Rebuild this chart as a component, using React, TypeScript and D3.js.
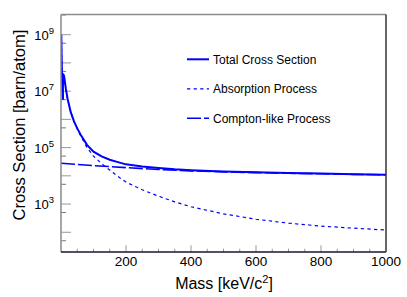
import React, { useRef, useEffect } from "react";
import * as d3 from "d3";

// masses in keV/c^2, cross sections in barn/atom
const totalMass = [1, 2, 3, 4, 5, 6, 6, 8, 10, 15, 20, 30, 40, 50, 60, 80, 100, 125, 150, 175, 200, 250, 300, 350, 400, 500, 600, 700, 800, 900, 1000];
const totalValue = [1.0e9, 1.5e8, 4.0e7, 1.5e7, 8.0e6, 5.0e6, 4.0e7, 3.8e7, 3.2e7, 1.2e7, 5.5e6, 1.8e6, 8.5e5, 4.8e5, 2.9e5, 1.25e5, 7.2e4, 4.9e4, 3.7e4, 3.05e4, 2.55e4, 2.15e4, 1.9e4, 1.7e4, 1.58e4, 1.43e4, 1.33e4, 1.25e4, 1.2e4, 1.14e4, 1.1e4];

const absMass = [1, 2, 3, 4, 5, 6, 6, 8, 10, 15, 20, 30, 40, 50, 60, 80, 100, 125, 150, 175, 200, 250, 300, 350, 400, 500, 600, 700, 800, 900, 1000];
const absValue = [1.0e9, 1.5e8, 4.0e7, 1.5e7, 8.0e6, 5.0e6, 4.0e7, 3.8e7, 3.2e7, 1.2e7, 5.5e6, 1.8e6, 8.3e5, 4.6e5, 2.7e5, 1.0e5, 5.0e4, 2.7e4, 1.6e4, 9.5e3, 6.0e3, 3.2e3, 1.9e3, 1.2e3, 8.0e2, 4.5e2, 2.9e2, 2.1e2, 1.65e2, 1.4e2, 1.2e2];

const comptonMass = [0, 100, 200, 300, 400, 500, 600, 700, 800, 900, 1000];
const comptonValue = [2.8e4, 2.3e4, 1.95e4, 1.68e4, 1.5e4, 1.38e4, 1.3e4, 1.23e4, 1.18e4, 1.13e4, 1.09e4];

const xTickLabels = [200, 400, 600, 800, 1000];
const yLabelExps = [3, 5, 7, 9];

const legendItems = [
  { label: "Total Cross Section", dash: "none", width: 2 },
  { label: "Absorption Process", dash: "3.3,3.3", width: 1.2 },
  { label: "Compton-like Process", dash: "14,3", width: 1.6 },
];

const App = () => {
  const ref = useRef(null);

  useEffect(() => {
    const svg = d3.select(ref.current);
    svg.selectAll("*").remove();

    const left = 61, right = 386, top = 14.5, bottom = 252;
    const font = "'Liberation Sans', Arial, Helvetica, sans-serif";

    const x = d3.scaleLinear().domain([0, 1000]).range([left, right]);
    const y = d3.scaleLog().domain([20, 5.2e9]).range([bottom, top]);

    svg.append("defs").append("clipPath").attr("id", "plotclip")
      .append("rect").attr("x", left).attr("y", top)
      .attr("width", right - left).attr("height", bottom - top);

    // x ticks
    const g = svg.append("g");
    d3.range(50, 1000, 50).forEach((v) => {
      const major = v % 200 === 0;
      g.append("line")
        .attr("x1", x(v)).attr("x2", x(v))
        .attr("y1", bottom).attr("y2", bottom - (major ? 6.7 : 3.3))
        .attr("stroke", "#999").attr("stroke-width", 1);
    });
    xTickLabels.forEach((v) => {
      g.append("text")
        .attr("x", x(v)).attr("y", 266)
        .attr("text-anchor", "middle")
        .attr("font-family", font).attr("font-size", 13.5)
        .text(v);
    });

    // y ticks
    d3.range(2, 10).forEach((e) => {
      g.append("line")
        .attr("x1", left).attr("x2", left + 10)
        .attr("y1", y(Math.pow(10, e))).attr("y2", y(Math.pow(10, e)))
        .attr("stroke", "#999");
    });
    d3.range(1, 10).forEach((e) => {
      const v = 5 * Math.pow(10, e);
      if (v < 20 || v > 5.2e9) return;
      g.append("line")
        .attr("x1", left).attr("x2", left + 5)
        .attr("y1", y(v)).attr("y2", y(v))
        .attr("stroke", "#777");
    });
    yLabelExps.forEach((e) => {
      const t = g.append("text")
        .attr("x", 54).attr("y", y(Math.pow(10, e)) + 5)
        .attr("text-anchor", "end")
        .attr("font-family", font).attr("font-size", 13);
      t.append("tspan").text("10");
      t.append("tspan").attr("dy", -6).attr("font-size", 9.5).text(e);
    });

    // curves
    const line = d3.line<[number, number]>()
      .x((d) => x(d[0]))
      .y((d) => y(d[1]));
    const curves = svg.append("g").attr("clip-path", "url(#plotclip)");

    curves.append("path")
      .attr("d", line(comptonMass.map((m, i) => [m, comptonValue[i]])))
      .attr("fill", "none").attr("stroke", "#0000ff")
      .attr("stroke-width", 1.6).attr("stroke-dasharray", "14,3");
    curves.append("path")
      .attr("d", line(absMass.map((m, i) => [m, absValue[i]])))
      .attr("fill", "none").attr("stroke", "#0000ff")
      .attr("stroke-width", 1.2).attr("stroke-dasharray", "3.3,3.3");
    curves.append("path")
      .attr("d", line(totalMass.map((m, i) => [m, totalValue[i]])))
      .attr("fill", "none").attr("stroke", "#0000ff")
      .attr("stroke-width", 2);

    // frame
    svg.append("line").attr("x1", left).attr("x2", right).attr("y1", top).attr("y2", top)
      .attr("stroke", "#8a8a8a").attr("stroke-width", 1.5);
    svg.append("line").attr("x1", left).attr("x2", left).attr("y1", top).attr("y2", bottom)
      .attr("stroke", "#8a8a8a").attr("stroke-width", 1.5);
    svg.append("line").attr("x1", left).attr("x2", right).attr("y1", bottom).attr("y2", bottom)
      .attr("stroke", "#151535").attr("stroke-width", 1.5);
    svg.append("line").attr("x1", right).attr("x2", right).attr("y1", top).attr("y2", bottom)
      .attr("stroke", "#333").attr("stroke-width", 1.5);

    // legend
    legendItems.forEach((it, i) => {
      const ly = 59.3 + i * 29.5;
      svg.append("line")
        .attr("x1", 187).attr("x2", 209).attr("y1", ly).attr("y2", ly)
        .attr("stroke", "#0000ff").attr("stroke-width", it.width)
        .attr("stroke-dasharray", it.dash);
      svg.append("text")
        .attr("x", 213).attr("y", ly + 4.3)
        .attr("font-family", font).attr("font-size", 12)
        .text(it.label);
    });

    // axis titles
    const xt = svg.append("text")
      .attr("x", 224).attr("y", 289)
      .attr("text-anchor", "middle")
      .attr("font-family", font).attr("font-size", 16);
    xt.append("tspan").text("Mass [keV/c");
    xt.append("tspan").attr("dy", -6).attr("font-size", 11).text("2");
    xt.append("tspan").attr("dy", 6).text("]");

    svg.append("text")
      .attr("transform", "translate(25,125) rotate(-90)")
      .attr("text-anchor", "middle")
      .attr("font-family", font).attr("font-size", 16.5)
      .text("Cross Section [barn/atom]");
  }, []);

  return (
    <svg
      ref={ref}
      width={407}
      height={297}
      style={{ position: "absolute", left: 0, top: 0, background: "#fff" }}
    ></svg>
  );
};

export default App;
